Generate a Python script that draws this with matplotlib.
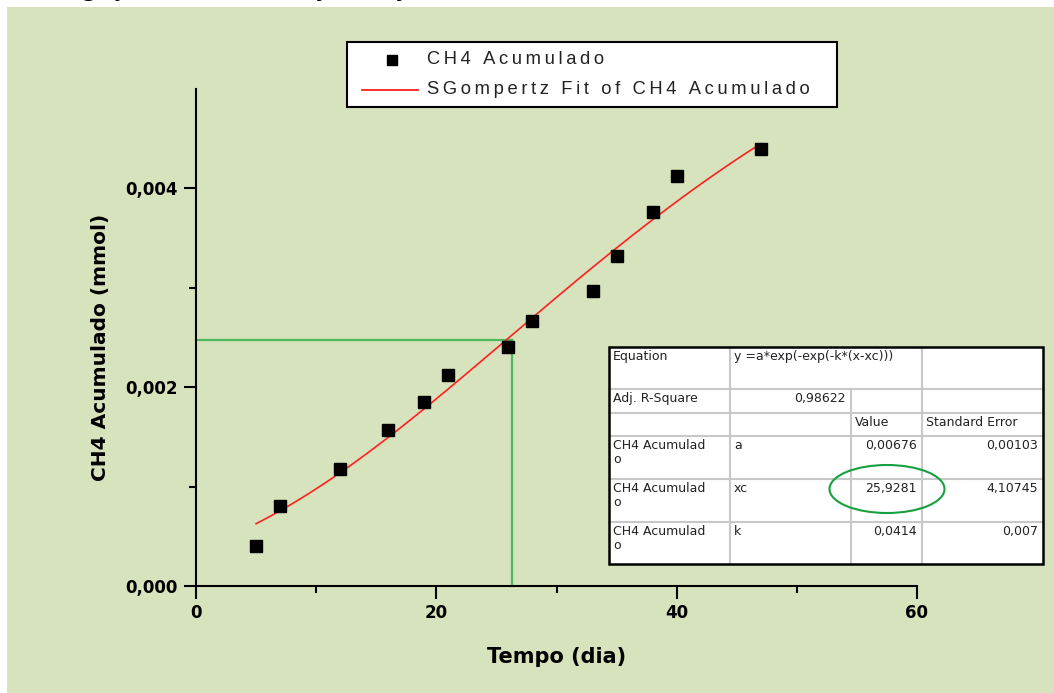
import numpy as np
import matplotlib
matplotlib.use("Agg")
import matplotlib.pyplot as plt
from matplotlib.patches import Rectangle, Ellipse
from matplotlib.lines import Line2D

# ---------------- data ----------------
tempo = [5, 7, 12, 16, 19, 21, 26, 28, 33, 35, 38, 40, 47]
ch4 = [0.00040, 0.00080, 0.00118, 0.00157, 0.00185, 0.00212, 0.00240,
       0.00267, 0.00297, 0.00332, 0.00376, 0.00412, 0.00440]

# SGompertz fit parameters (from the table)
fit_a = 0.00676
fit_xc = 25.9281
fit_k = 0.0414
fit_range = [5, 47]

# reference (green) lines
ref_x = 26.3
ref_y = 0.00247

x_ticks = [0, 20, 40, 60]
x_ticklabels = ["0", "20", "40", "60"]
y_ticks = [0.000, 0.002, 0.004]
y_ticklabels = ["0,000", "0,002", "0,004"]

table_rows = [
    ["Equation", "y =a*exp(-exp(-k*(x-xc)))", "", ""],
    ["Adj. R-Square", "0,98622", "", ""],
    ["", "", "Value", "Standard Error"],
    ["CH4 Acumulad\no", "a", "0,00676", "0,00103"],
    ["CH4 Acumulad\no", "xc", "25,9281", "4,10745"],
    ["CH4 Acumulad\no", "k", "0,0414", "0,007"],
]

BG = "#d7e3bd"
W, H = 1054, 693

fig = plt.figure(figsize=(W / 100, H / 100), dpi=100)
fig.patch.set_facecolor("white")

def fx(px):
    return px / W

def fy(py):
    return 1 - py / H

# green background panel
fig.patches.append(Rectangle((fx(7), 0), 1 - fx(7), fy(7), transform=fig.transFigure,
                             facecolor=BG, edgecolor="none", zorder=-5))
# clipped caption at top (only its lower part is visible, as in the reference)
fig.text(fx(2), fy(-9), "Investigação da curva de ajuste ajustada", fontsize=15,
         fontweight="bold", ha="left", va="center", color="black", zorder=-6)

ax = fig.add_axes([fx(196), fy(586), fx(917) - fx(196), fy(89) - fy(586)])
ax.set_zorder(1)
ax.set_facecolor("none")
ax.set_xlim(0, 60)
ax.set_ylim(0, 0.005)
for s in ["top", "right"]:
    ax.spines[s].set_visible(False)
for s in ["left", "bottom"]:
    ax.spines[s].set_linewidth(1.5)

ax.set_xticks(x_ticks)
ax.set_xticklabels(x_ticklabels)
ax.set_yticks(y_ticks)
ax.set_yticklabels(y_ticklabels)
ax.set_xticks([10, 30, 50], minor=True)
ax.set_yticks([0.001, 0.003], minor=True)
ax.tick_params(which="major", length=9, width=1.5, direction="out", pad=4)
ax.tick_params(which="minor", length=5, width=1.5, direction="out")
for t in ax.get_xticklabels() + ax.get_yticklabels():
    t.set_fontfamily(["Liberation Sans Narrow", "DejaVu Sans"])
    t.set_fontweight("bold")
    t.set_fontsize(12)

ax.set_xlabel("Tempo (dia)", fontsize=15, fontweight="bold",
              family=["Liberation Sans Narrow", "DejaVu Sans"], labelpad=18)
ax.set_ylabel("CH4 Acumulado (mmol)", fontsize=14.5, fontweight="bold",
              family=["Liberation Sans Narrow", "DejaVu Sans"])
ax.yaxis.set_label_coords(-0.119, 0.48)

# green guide lines
ax.plot([0, ref_x], [ref_y, ref_y], color="#4db85c", lw=1.6, zorder=2, clip_on=False)
ax.plot([ref_x, ref_x], [0, ref_y], color="#4db85c", lw=1.6, zorder=2, clip_on=False)

# fit curve
xf = np.linspace(fit_range[0], fit_range[1], 300)
yf = fit_a * np.exp(-np.exp(-fit_k * (xf - fit_xc)))
ax.plot(xf, yf, color="#ff2020", lw=1.2, zorder=3)

# data
ax.plot(tempo, ch4, ls="none", marker="s", ms=8.5, color="black", zorder=4)

# ---------------- legend (manual box) ----------------
lx0, ly0, lx1, ly1 = 347, 42, 837, 107
fig.patches.append(Rectangle((fx(lx0), fy(ly1)), fx(lx1) - fx(lx0), fy(ly0) - fy(ly1),
                             transform=fig.transFigure, facecolor="white",
                             edgecolor="black", lw=1.5, zorder=5))
ts = "\u2009"
leg1 = ts.join("CH4 Acumulado")
leg2 = ts.join("SGompertz Fit of CH4 Acumulado")
fig.lines.append(Line2D([fx(392)], [fy(60)], transform=fig.transFigure, marker="s",
                        ms=7, color="black", ls="none", zorder=6))
fig.lines.append(Line2D([fx(362), fx(418)], [fy(90), fy(90)], transform=fig.transFigure,
                        color="#ff2020", lw=1.3, zorder=6))
legfont = dict(fontsize=13.2, family=["Liberation Sans", "DejaVu Sans"], color="#222222")
fig.text(fx(427), fy(60), leg1, ha="left", va="center", zorder=6, **legfont)
fig.text(fx(427), fy(90), leg2, ha="left", va="center", zorder=6, **legfont)

# ---------------- parameter table ----------------
cols = [609, 730, 851, 922, 1043]
rows = [347, 389, 413, 436, 479, 522, 564]
fig.patches.append(Rectangle((fx(cols[0]), fy(rows[-1])), fx(cols[-1]) - fx(cols[0]),
                             fy(rows[0]) - fy(rows[-1]), transform=fig.transFigure,
                             facecolor="white", edgecolor="none", zorder=5))
grid_c = "#c8c8c8"
for r in rows[1:-1]:
    fig.lines.append(Line2D([fx(cols[0]), fx(cols[-1])], [fy(r), fy(r)],
                            transform=fig.transFigure, color=grid_c, lw=1.5, zorder=6))
for i, c in enumerate(cols[1:-1], start=1):
    top = rows[0]
    if i == 2:
        top = rows[1]  # equation spans columns 2-3 in first row
    fig.lines.append(Line2D([fx(c), fx(c)], [fy(top), fy(rows[-1])],
                            transform=fig.transFigure, color=grid_c, lw=1.5, zorder=6))
fig.patches.append(Rectangle((fx(cols[0]), fy(rows[-1])), fx(cols[-1]) - fx(cols[0]),
                             fy(rows[0]) - fy(rows[-1]), transform=fig.transFigure,
                             facecolor="none", edgecolor="black", lw=1.8, zorder=7))
tfont = dict(fontsize=9.0, family=["DejaVu Sans"], color="#222222",
             zorder=8, va="top", linespacing=1.1)
for ri, row in enumerate(table_rows):
    ytop = fy(rows[ri] + 3)
    for ci, txt in enumerate(row):
        if not txt:
            continue
        right_align = (ri == 1 and ci == 1) or (ri >= 3 and ci >= 2)
        if right_align:
            fig.text(fx(cols[ci + 1] - 5), ytop, txt, ha="right", **tfont)
        else:
            fig.text(fx(cols[ci] + 4), ytop, txt, ha="left", **tfont)

# green ellipse highlighting xc
fig.patches.append(Ellipse((fx(887), fy(489)), fx(115), 48 / H, transform=fig.transFigure,
                           facecolor="none", edgecolor="#17a040", lw=1.5, zorder=9))

fig.savefig("out.png", dpi=100, facecolor=fig.get_facecolor())
